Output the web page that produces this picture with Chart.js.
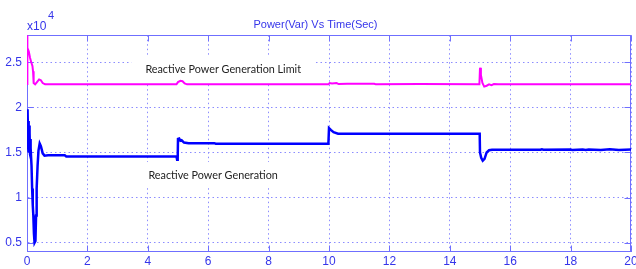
<!DOCTYPE html>
<html>
<head>
<meta charset="utf-8">
<title>Power(Var) Vs Time(Sec)</title>
<script src="https://cdn.jsdelivr.net/npm/chart.js@4.4.1/dist/chart.umd.min.js"></script>
<style>
  html, body { margin: 0; padding: 0; background: #fff; }
</style>
</head>
<body>
<canvas id="powerChart" width="636" height="269"></canvas>
<script>
'use strict'

//------------------Data----------------------// values are in units of 10^4 Var
var limitTime = [0, 0.005, 0.02, 0.06, 0.10, 0.14, 0.18, 0.20, 0.22, 0.27, 0.33, 0.40, 0.46, 0.52, 0.60,
  4.95, 5.00, 5.08, 5.15, 5.22, 5.30, 9.98, 10.02, 10.10, 10.25, 10.32, 10.60, 11.50, 11.55, 13.00,
  14.98, 15.00, 15.03, 15.08, 15.14, 15.22, 15.30, 15.38, 15.46, 15.60, 20];
var limitPower = [2.26, 2.85, 2.66, 2.62, 2.55, 2.50, 2.46, 2.40, 2.27, 2.255, 2.28, 2.31, 2.30, 2.27, 2.255,
  2.255, 2.28, 2.295, 2.29, 2.265, 2.255, 2.255, 2.27, 2.265, 2.27, 2.258, 2.262, 2.262, 2.255, 2.258,
  2.255, 2.44, 2.36, 2.27, 2.23, 2.24, 2.255, 2.245, 2.258, 2.255, 2.255];

var genTime = [0, 0.01, 0.02, 0.03, 0.04, 0.05, 0.06, 0.07, 0.08, 0.09, 0.10, 0.11, 0.12, 0.13, 0.15, 0.17,
  0.19, 0.21, 0.23, 0.25, 0.28, 0.30, 0.32, 0.35, 0.38, 0.42, 0.46, 0.52, 0.58, 0.70, 1.25, 1.30,
  4.95, 4.97, 4.99, 5.00, 5.04, 5.08, 5.12, 5.20, 5.35, 6.20, 6.25, 9.98, 10.00, 10.06, 10.15, 10.30,
  14.99, 15.00, 15.04, 15.09, 15.15, 15.22, 15.30, 15.40, 17.00, 17.05, 17.10, 18.00, 18.05, 18.40,
  18.50, 18.60, 19.00, 19.30, 19.60, 20];
var genPower = [1.98, 1.85, 1.65, 1.95, 1.55, 1.85, 1.50, 1.80, 1.52, 1.72, 1.48, 1.65, 1.45, 1.55, 1.35, 1.10,
  0.92, 0.80, 0.60, 0.50, 0.52, 0.80, 1.10, 1.35, 1.52, 1.60, 1.57, 1.49, 1.465, 1.47, 1.468, 1.455,
  1.455, 1.42, 1.43, 1.65, 1.655, 1.63, 1.635, 1.61, 1.603, 1.603, 1.597, 1.597, 1.77, 1.75, 1.725, 1.708,
  1.708, 1.50, 1.44, 1.41, 1.43, 1.50, 1.525, 1.53, 1.53, 1.535, 1.53, 1.532, 1.528, 1.533,
  1.527, 1.534, 1.528, 1.535, 1.528, 1.532];

var xTicks = [0, 2, 4, 6, 8, 10, 12, 14, 16, 18, 20];
var yTicks = [0.5, 1, 1.5, 2, 2.5];

// text notes placed in data coordinates
var noteText = ['Reactive Power Generation Limit', 'Reactive Power Generation'];
var noteTime = [3.92, 4.02];
var notePower = [2.42, 1.25];

//------------------Colours----------------------//
var axisBlue = '#6f6fff';
var labelBlue = '#3535ea';
var gridBlue = '#8c8cff';

function toPoints(xs, ys) {
  let pts = [];
  for (let i = 0; i < xs.length; i++) {
    pts.push({ x: xs[i], y: ys[i] });
  }
  return pts;
}

//------------------Frame plugin----------------------// box, inward ticks, notes and the x10^4 exponent
var framePlugin = {
  id: 'matlabFrame',
  beforeDatasetsDraw: function(chart) {
    let ctx = chart.ctx;
    let area = chart.chartArea;
    let xs = chart.scales.x;
    let ys = chart.scales.y;
    ctx.save();

    // note boxes hide the grid behind them
    ctx.font = '10.8px Lato';
    ctx.textBaseline = 'middle';
    for (let i = 0; i < noteText.length; i++) {
      let px = xs.getPixelForValue(noteTime[i]);
      let py = ys.getPixelForValue(notePower[i]);
      let w = ctx.measureText(noteText[i]).width;
      ctx.fillStyle = '#ffffff';
      ctx.fillRect(px - 14, py - 13, w + 28, 26);
      ctx.fillStyle = '#222222';
      ctx.fillText(noteText[i], px, py);
    }

    // outer box
    ctx.strokeStyle = axisBlue;
    ctx.lineWidth = 1;
    ctx.setLineDash([]);
    let l = Math.round(area.left) + 0.5, r = Math.round(area.right) - 0.5;
    let t = Math.round(area.top) + 0.5, b = Math.round(area.bottom) - 0.5;
    ctx.strokeRect(l, t, r - l, b - t);

    // inward tick marks on all four sides
    let len = 6;
    ctx.beginPath();
    for (let i = 0; i < xTicks.length; i++) {
      let px = Math.round(xs.getPixelForValue(xTicks[i])) + 0.5;
      ctx.moveTo(px, b); ctx.lineTo(px, b - len);
      ctx.moveTo(px, t); ctx.lineTo(px, t + len);
    }
    for (let i = 0; i < yTicks.length; i++) {
      let py = Math.round(ys.getPixelForValue(yTicks[i])) + 0.5;
      ctx.moveTo(l, py); ctx.lineTo(l + len, py);
      ctx.moveTo(r, py); ctx.lineTo(r - len, py);
    }
    ctx.stroke();
    ctx.restore();
  },
  afterDraw: function(chart) {
    let ctx = chart.ctx;
    let area = chart.chartArea;
    ctx.save();
    ctx.fillStyle = labelBlue;
    ctx.textBaseline = 'alphabetic';
    ctx.font = '12px "Liberation Sans"';
    ctx.fillText('x10', area.left, area.top - 5);
    ctx.font = '11px "Liberation Sans"';
    ctx.fillText('4', area.left + 21, area.top - 16);
    ctx.restore();
  }
};

//------------------Chart----------------------//
var ctx = document.getElementById('powerChart').getContext('2d');

var powerChart = new Chart(ctx, {
  type: 'line',
  data: {
    datasets: [{
      label: 'Reactive Power Generation Limit',
      data: toPoints(limitTime, limitPower),
      borderColor: '#ff00ff',
      borderWidth: 2,
      pointRadius: 0,
      tension: 0
    }, {
      label: 'Reactive Power Generation',
      data: toPoints(genTime, genPower),
      borderColor: '#0000ff',
      borderWidth: 2.5,
      pointRadius: 0,
      tension: 0
    }]
  },
  options: {
    responsive: false,
    animation: false,
    events: [],
    layout: { padding: { top: 1, right: 5, left: 0, bottom: 0 } },
    plugins: {
      legend: { display: false },
      tooltip: { enabled: false },
      title: {
        display: true,
        text: 'Power(Var) Vs Time(Sec)',
        color: labelBlue,
        font: { family: 'Liberation Sans', size: 11, weight: 'normal' },
        padding: { top: 17, bottom: 4 }
      }
    },
    scales: {
      x: {
        type: 'linear',
        min: 0,
        max: 20,
        afterBuildTicks: function(scale) {
          scale.ticks = xTicks.map(function(v) { return { value: v }; });
        },
        afterFit: function(scale) {
          scale.height = 17.3;
          scale.paddingLeft = 0;
          scale.paddingRight = 0;
        },
        ticks: {
          color: labelBlue,
          font: { family: 'Liberation Sans', size: 12 },
          padding: 3,
          maxRotation: 0,
          autoSkip: false,
          callback: function(value) { return value; }
        },
        grid: { color: gridBlue, lineWidth: 1, drawTicks: false },
        border: { display: true, color: axisBlue, dash: [1.5, 3] }
      },
      y: {
        type: 'linear',
        min: 0.4,
        max: 2.8,
        afterBuildTicks: function(scale) {
          scale.ticks = yTicks.map(function(v) { return { value: v }; });
        },
        afterFit: function(scale) {
          scale.width = 27;
          scale.paddingTop = 0;
          scale.paddingBottom = 0;
        },
        ticks: {
          color: labelBlue,
          font: { family: 'Liberation Sans', size: 12 },
          padding: 5,
          autoSkip: false,
          callback: function(value) { return value; }
        },
        grid: { color: gridBlue, lineWidth: 1, drawTicks: false },
        border: { display: true, color: axisBlue, dash: [1.5, 3] }
      }
    }
  },
  plugins: [framePlugin]
});
</script>
</body>
</html>
